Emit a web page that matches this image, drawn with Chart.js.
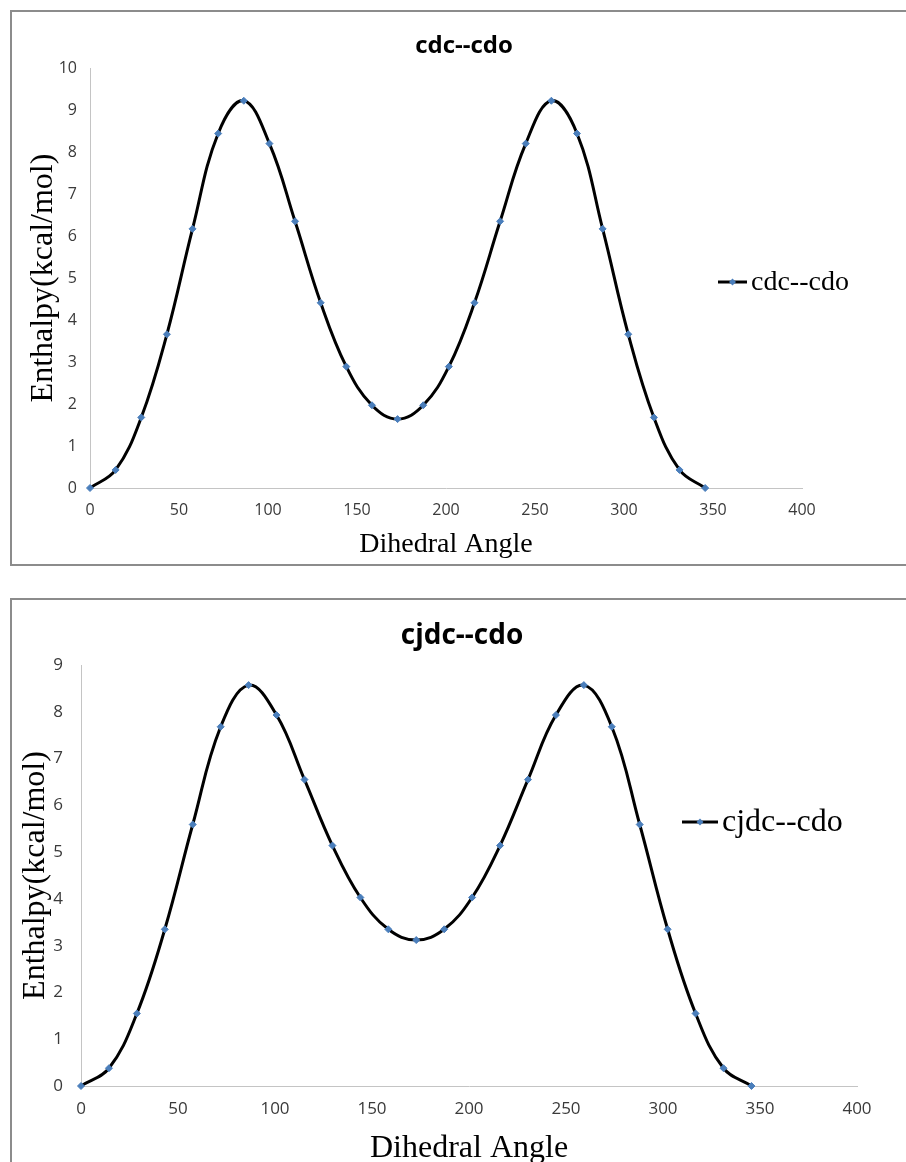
<!DOCTYPE html>
<html>
<head>
<meta charset="utf-8">
<script src="https://cdn.jsdelivr.net/npm/chart.js@4.4.0/dist/chart.umd.min.js"></script>
<style>
  body { margin: 0; background: #fff; overflow: hidden; width: 906px; height: 1162px; position: relative; }
  .frame { position: absolute; left: 10px; width: 940px; border: 2px solid #8c8c8c; box-sizing: border-box; }
  #frame1 { top: 10px; height: 556px; }
  #frame2 { top: 598px; height: 620px; }
  canvas { position: absolute; }
  #chart1 { left: 11px; top: 11px; }
  #chart2 { left: 11px; top: 600px; }
</style>
</head>
<body>
<div class="frame" id="frame1"></div>
<div class="frame" id="frame2"></div>
<canvas id="chart1" width="895" height="553"></canvas>
<canvas id="chart2" width="895" height="580"></canvas>
<script>
// dihedral angles (degrees), same for both scans
const angles = [0, 14.4, 28.8, 43.2, 57.6, 72, 86.4, 100.8, 115.2, 129.6, 144, 158.4, 172.8,
                187.2, 201.6, 216, 230.4, 244.8, 259.2, 273.6, 288, 302.4, 316.8, 331.2, 345.6];

// enthalpy (kcal/mol)
const cdcCdo = [0, 0.43, 1.68, 3.66, 6.17, 8.44, 9.22, 8.20, 6.35, 4.41, 2.89, 1.97, 1.64,
                1.97, 2.89, 4.41, 6.35, 8.20, 9.22, 8.44, 6.17, 3.66, 1.68, 0.43, 0];
const cjdcCdo = [0, 0.38, 1.55, 3.35, 5.59, 7.68, 8.57, 7.93, 6.55, 5.14, 4.03, 3.35, 3.12,
                 3.35, 4.03, 5.14, 6.55, 7.93, 8.57, 7.68, 5.59, 3.35, 1.55, 0.38, 0];

const seriesNames = ['cdc--cdo', 'cjdc--cdo'];
const xAxisTitle = 'Dihedral Angle';
const yAxisTitle = 'Enthalpy(kcal/mol)';

const blue = '#4a7ebb';
const tickFamily = "'Liberation Sans Narrow', 'Open Sans', sans-serif";
const serif = "'Liberation Serif', 'Times New Roman', serif";

// excel-ish title + legend drawn by hand
const excelLabels = {
  id: 'excelLabels',
  afterDraw(chart, args, o) {
    const ctx = chart.ctx;
    const name = chart.data.datasets[0].label;
    ctx.save();
    ctx.fillStyle = '#000';
    ctx.textBaseline = 'middle';
    ctx.textAlign = 'center';
    ctx.font = o.titleFont;
    ctx.fillText(name, o.titleX, o.titleY);

    // legend line + diamond
    ctx.strokeStyle = '#000';
    ctx.lineWidth = 3;
    ctx.beginPath();
    ctx.moveTo(o.legX, o.legY);
    ctx.lineTo(o.legX + o.legLen, o.legY);
    ctx.stroke();
    const cx = o.legX + o.legLen / 2, r = 3.5;
    ctx.fillStyle = blue;
    ctx.beginPath();
    ctx.moveTo(cx, o.legY - r);
    ctx.lineTo(cx + r, o.legY);
    ctx.lineTo(cx, o.legY + r);
    ctx.lineTo(cx - r, o.legY);
    ctx.closePath();
    ctx.fill();

    ctx.fillStyle = '#000';
    ctx.textAlign = 'left';
    ctx.font = o.legFont;
    ctx.fillText(name, o.legX + o.legLen + 4, o.legY + 1);
    ctx.restore();
  }
};

function makeChart(id, values, name, yMax, c) {
  const points = angles.map((a, i) => ({ x: a, y: values[i] }));
  return new Chart(document.getElementById(id), {
    type: 'line',
    data: {
      datasets: [{
        label: name,
        data: points,
        borderColor: '#000',
        borderWidth: 3,
        tension: 0.4,
        pointStyle: 'rectRot',
        pointRadius: 3.5,
        pointBackgroundColor: blue,
        pointBorderColor: blue,
        pointBorderWidth: 1,
        clip: false
      }]
    },
    plugins: [excelLabels],
    options: {
      responsive: false,
      animation: false,
      devicePixelRatio: 1,
      layout: { padding: { left: 0, right: c.padRight, top: c.padTop, bottom: 0 } },
      plugins: {
        legend: { display: false },
        tooltip: { enabled: false },
        excelLabels: c.labels
      },
      scales: {
        x: {
          type: 'linear',
          min: 0,
          max: 400,
          ticks: { stepSize: 50, padding: c.xTickPad, color: '#3a3a3a', font: { family: tickFamily, size: c.tickSize } },
          grid: { display: false, drawTicks: false },
          border: { display: true, color: '#c4c4c4', width: 1 },
          title: {
            display: true,
            text: xAxisTitle,
            color: '#000',
            font: { family: serif, size: c.xTitleSize, lineHeight: 1.2 },
            padding: { top: 0, bottom: c.xTitlePad }
          },
          afterFit: s => { s.height = c.xHeight; }
        },
        y: {
          min: 0,
          max: yMax,
          ticks: { stepSize: 1, padding: c.yTickPad, color: '#3a3a3a', font: { family: tickFamily, size: c.tickSize } },
          grid: { display: false, drawTicks: false },
          border: { display: true, color: '#c4c4c4', width: 1 },
          title: {
            display: true,
            text: yAxisTitle,
            color: '#000',
            font: { family: serif, size: 32, lineHeight: 1.2 },
            padding: { top: c.yTitlePad, bottom: 0 }
          },
          afterFit: s => { s.width = c.yWidth; }
        }
      }
    }
  });
}

makeChart('chart1', cdcCdo, seriesNames[0], 10, {
  padRight: 104, padTop: 57, xHeight: 76, xTickPad: 13, yTickPad: 13, yWidth: 79,
  tickSize: 16, xTitleSize: 28, xTitlePad: 3, yTitlePad: 13,
  labels: {
    titleFont: "bold 24px " + tickFamily, titleX: 453, titleY: 35,
    legX: 707, legY: 271, legLen: 29, legFont: "28px " + serif
  }
});

makeChart('chart2', cjdcCdo, seriesNames[1], 9, {
  padRight: 49, padTop: 65, xHeight: 94, xTickPad: 13, yTickPad: 18, yWidth: 70,
  tickSize: 17, xTitleSize: 32, xTitlePad: 12, yTitlePad: 5,
  labels: {
    titleFont: "bold 28px " + tickFamily, titleX: 451, titleY: 36,
    legX: 671, legY: 222, legLen: 36, legFont: "32px " + serif
  }
});
</script>
</body>
</html>
